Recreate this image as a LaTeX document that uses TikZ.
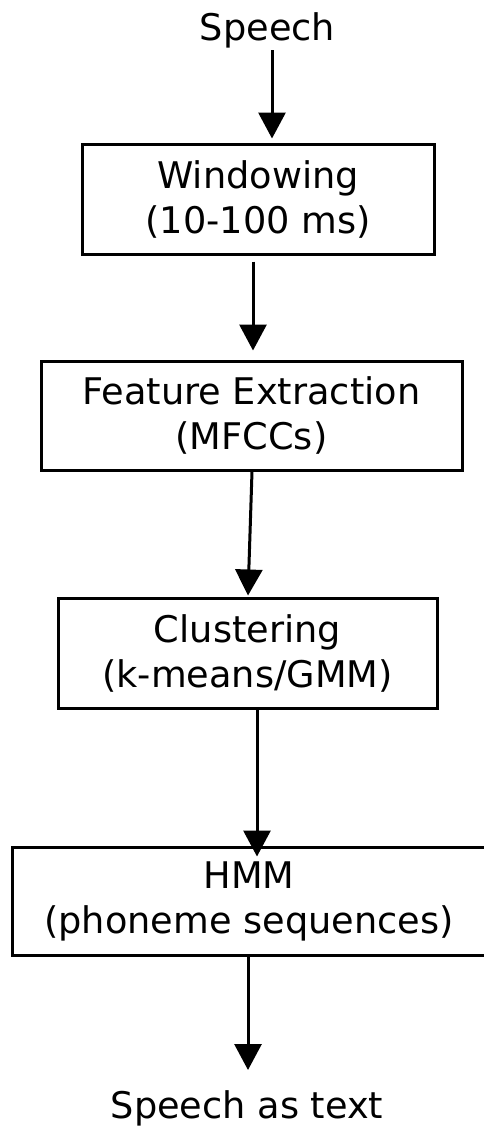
\documentclass[tikz,border=0pt]{standalone}
\usepackage{fontspec}
\setmainfont{DejaVu Sans}
\usetikzlibrary{positioning,calc,arrows.meta}

\begin{document}
\begin{tikzpicture}[x=0.5pt, y=-0.5pt,
    stage/.style={draw=black, line width=1.5pt, rectangle, align=center, inner sep=0pt,
      font=\fontsize{18.35}{22.5}\selectfont},
    endtext/.style={inner sep=0pt, anchor=base, font=\fontsize{18.35}{22.5}\selectfont},
    flow/.style={line width=1.5pt, -{Triangle[width=13.5pt,length=13pt]}}]
      \useasboundingbox (0,0) rectangle (483,1126);

      % Input and output
      \node[endtext] (speech) at (267.5,40) {Speech};
      \node[endtext] (out) at (247,1118) {Speech as text};

      % Stages
      \node[stage, minimum width=176pt, minimum height=55pt] (win) at (258,199)
        {Windowing\\(10-100 ms)};
      \node[stage, minimum width=210.5pt, minimum height=54.5pt] (feat) at (251.5,415.5)
        {Feature Extraction\\(MFCCs)};
      \node[stage, minimum width=189.5pt, minimum height=55pt] (clus) at (247.5,653)
        {Clustering\\(k-means/GMM)};
      \node[stage, minimum width=237pt, minimum height=54pt] (hmm) at (249,901)
        {HMM\\(phoneme sequences)};

      % Arrows
      \draw[flow] ($(speech.base)+(4.5,10)$) -- ($(win.north)+(14,-4)$);
      \draw[flow] ($(win.south)+(-5,6)$) -- ($(feat.north)+(1.5,-9)$);
      \draw[flow] ($(feat.south)+(0.5,0)$) -- ($(clus.north)+(0.5,-1)$);
      \draw[flow] ($(clus.south)+(9.5,0)$) -- ($(hmm.north)+(8,11)$);
      \draw[flow] ($(hmm.south)+(-1,0)$) -- ($(out.base)+(1,-48)$);
    \end{tikzpicture}
\end{document}
